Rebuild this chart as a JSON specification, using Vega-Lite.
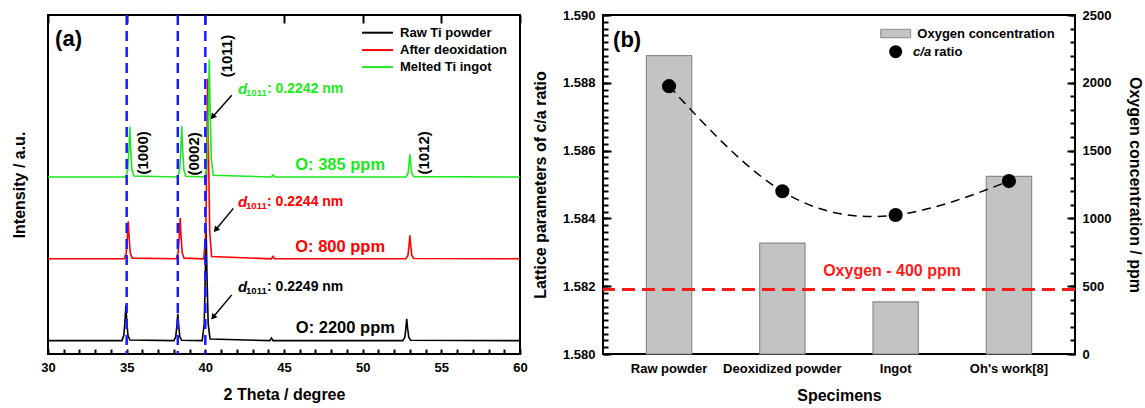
{
  "$schema": "https://vega.github.io/schema/vega-lite/v6.json",
  "background": "white",
  "padding": {"left": 10, "top": 8, "right": 0, "bottom": 2},
  "bounds": "flush",
  "spacing": 83,
  "config": {
    "view": {"stroke": "black", "strokeWidth": 2},
    "font": "Liberation Sans",
    "axis": {"labelFont": "Liberation Sans", "labelFontWeight": "bold", "labelFontSize": 13, "labelColor": "black", "titleFont": "Liberation Sans", "titleFontWeight": "bold", "titleFontSize": 16, "titleColor": "black", "domainColor": "black", "domainWidth": 2, "ticks": false, "grid": false, "gridColor": "black", "gridOpacity": 1, "gridWidth": 2, "labelOverlap": false, "labelFlush": false},
    "text": {"font": "Liberation Sans", "fontWeight": "bold"}
  },
  "datasets": {
    "xrd": [
      {"s": "Raw Ti powder", "t": 30, "i": 40}, {"s": "Raw Ti powder", "t": 34.7, "i": 40}, {"s": "Raw Ti powder", "t": 34.82, "i": 56}, {"s": "Raw Ti powder", "t": 34.9, "i": 103}, {"s": "Raw Ti powder", "t": 34.95, "i": 145}, {"s": "Raw Ti powder", "t": 35.0, "i": 103}, {"s": "Raw Ti powder", "t": 35.08, "i": 56}, {"s": "Raw Ti powder", "t": 35.2, "i": 42},
      {"s": "Raw Ti powder", "t": 38.0, "i": 40}, {"s": "Raw Ti powder", "t": 38.12, "i": 52}, {"s": "Raw Ti powder", "t": 38.2, "i": 88}, {"s": "Raw Ti powder", "t": 38.25, "i": 120}, {"s": "Raw Ti powder", "t": 38.3, "i": 88}, {"s": "Raw Ti powder", "t": 38.38, "i": 52}, {"s": "Raw Ti powder", "t": 38.5, "i": 41},
      {"s": "Raw Ti powder", "t": 39.8, "i": 40}, {"s": "Raw Ti powder", "t": 39.93, "i": 91}, {"s": "Raw Ti powder", "t": 40.0, "i": 244}, {"s": "Raw Ti powder", "t": 40.05, "i": 380}, {"s": "Raw Ti powder", "t": 40.1, "i": 244}, {"s": "Raw Ti powder", "t": 40.18, "i": 91}, {"s": "Raw Ti powder", "t": 40.3, "i": 45},
      {"s": "Raw Ti powder", "t": 44.1, "i": 40}, {"s": "Raw Ti powder", "t": 44.2, "i": 48}, {"s": "Raw Ti powder", "t": 44.3, "i": 40},
      {"s": "Raw Ti powder", "t": 52.55, "i": 40}, {"s": "Raw Ti powder", "t": 52.68, "i": 50}, {"s": "Raw Ti powder", "t": 52.75, "i": 79}, {"s": "Raw Ti powder", "t": 52.8, "i": 105}, {"s": "Raw Ti powder", "t": 52.85, "i": 79}, {"s": "Raw Ti powder", "t": 52.93, "i": 50}, {"s": "Raw Ti powder", "t": 53.05, "i": 41}, {"s": "Raw Ti powder", "t": 60, "i": 40},
      {"s": "After deoxidation", "t": 30, "i": 285}, {"s": "After deoxidation", "t": 34.85, "i": 285}, {"s": "After deoxidation", "t": 34.97, "i": 302}, {"s": "After deoxidation", "t": 35.05, "i": 352}, {"s": "After deoxidation", "t": 35.1, "i": 397}, {"s": "After deoxidation", "t": 35.15, "i": 352}, {"s": "After deoxidation", "t": 35.23, "i": 302}, {"s": "After deoxidation", "t": 35.35, "i": 287},
      {"s": "After deoxidation", "t": 38.15, "i": 285}, {"s": "After deoxidation", "t": 38.27, "i": 303}, {"s": "After deoxidation", "t": 38.35, "i": 358}, {"s": "After deoxidation", "t": 38.4, "i": 407}, {"s": "After deoxidation", "t": 38.45, "i": 358}, {"s": "After deoxidation", "t": 38.53, "i": 303}, {"s": "After deoxidation", "t": 38.65, "i": 287},
      {"s": "After deoxidation", "t": 39.9, "i": 285}, {"s": "After deoxidation", "t": 40.03, "i": 366}, {"s": "After deoxidation", "t": 40.1, "i": 609}, {"s": "After deoxidation", "t": 40.15, "i": 825}, {"s": "After deoxidation", "t": 40.2, "i": 609}, {"s": "After deoxidation", "t": 40.28, "i": 366}, {"s": "After deoxidation", "t": 40.4, "i": 292},
      {"s": "After deoxidation", "t": 44.2, "i": 285}, {"s": "After deoxidation", "t": 44.3, "i": 292}, {"s": "After deoxidation", "t": 44.4, "i": 285},
      {"s": "After deoxidation", "t": 52.75, "i": 285}, {"s": "After deoxidation", "t": 52.88, "i": 296}, {"s": "After deoxidation", "t": 52.95, "i": 327}, {"s": "After deoxidation", "t": 53.0, "i": 355}, {"s": "After deoxidation", "t": 53.05, "i": 327}, {"s": "After deoxidation", "t": 53.12, "i": 296}, {"s": "After deoxidation", "t": 53.25, "i": 286}, {"s": "After deoxidation", "t": 60, "i": 285},
      {"s": "Melted Ti ingot", "t": 30, "i": 530}, {"s": "Melted Ti ingot", "t": 34.95, "i": 530}, {"s": "Melted Ti ingot", "t": 35.07, "i": 552}, {"s": "Melted Ti ingot", "t": 35.15, "i": 620}, {"s": "Melted Ti ingot", "t": 35.2, "i": 680}, {"s": "Melted Ti ingot", "t": 35.25, "i": 620}, {"s": "Melted Ti ingot", "t": 35.33, "i": 553}, {"s": "Melted Ti ingot", "t": 35.45, "i": 533},
      {"s": "Melted Ti ingot", "t": 38.25, "i": 530}, {"s": "Melted Ti ingot", "t": 38.37, "i": 553}, {"s": "Melted Ti ingot", "t": 38.45, "i": 620}, {"s": "Melted Ti ingot", "t": 38.5, "i": 682}, {"s": "Melted Ti ingot", "t": 38.55, "i": 621}, {"s": "Melted Ti ingot", "t": 38.63, "i": 553}, {"s": "Melted Ti ingot", "t": 38.75, "i": 532},
      {"s": "Melted Ti ingot", "t": 40.0, "i": 530}, {"s": "Melted Ti ingot", "t": 40.13, "i": 583}, {"s": "Melted Ti ingot", "t": 40.2, "i": 741}, {"s": "Melted Ti ingot", "t": 40.25, "i": 882}, {"s": "Melted Ti ingot", "t": 40.3, "i": 741}, {"s": "Melted Ti ingot", "t": 40.38, "i": 583}, {"s": "Melted Ti ingot", "t": 40.5, "i": 535},
      {"s": "Melted Ti ingot", "t": 44.2, "i": 530}, {"s": "Melted Ti ingot", "t": 44.3, "i": 536}, {"s": "Melted Ti ingot", "t": 44.4, "i": 530},
      {"s": "Melted Ti ingot", "t": 52.75, "i": 530}, {"s": "Melted Ti ingot", "t": 52.88, "i": 540}, {"s": "Melted Ti ingot", "t": 52.95, "i": 570}, {"s": "Melted Ti ingot", "t": 53.0, "i": 598}, {"s": "Melted Ti ingot", "t": 53.05, "i": 570}, {"s": "Melted Ti ingot", "t": 53.12, "i": 541}, {"s": "Melted Ti ingot", "t": 53.25, "i": 531}, {"s": "Melted Ti ingot", "t": 60, "i": 530}
    ],
    "spec": [
      {"spec": "Raw powder", "oxy": 2200, "ca": 1.5879},
      {"spec": "Deoxidized powder", "oxy": 818, "ca": 1.5848},
      {"spec": "Ingot", "oxy": 385, "ca": 1.5841},
      {"spec": "Oh's work[8]", "oxy": 1310, "ca": 1.5851}
    ]
  },
  "hconcat": [
    {
      "width": 472,
      "height": 339,
      "layer": [
        {
          "layer": [
            {
              "data": {"name": "xrd"},
              "mark": {"type": "line", "strokeWidth": 1.6},
              "encoding": {
                "x": {"field": "t", "type": "quantitative", "scale": {"domain": [30, 60], "nice": false, "zero": false},
                  "axis": {"title": "2 Theta / degree", "values": [30, 35, 40, 45, 50, 55, 60], "ticks": false, "grid": true, "gridDash": [8, 2000], "gridColor": "black", "gridWidth": 2, "gridOpacity": 1, "domain": false, "labelPadding": 7, "titlePadding": 12}},
                "y": {"field": "i", "type": "quantitative", "scale": {"domain": [0, 1015], "nice": false},
                  "axis": {"title": "Intensity / a.u.", "labels": false, "ticks": false, "grid": false, "domain": false, "titlePadding": 21}},
                "color": {"field": "s", "type": "nominal", "scale": {"domain": ["Raw Ti powder", "After deoxidation", "Melted Ti ingot"], "range": ["#000000", "#ff0000", "#1ee81e"]}, "legend": null}
              }
            },
            {
              "data": {"values": [{"t": 35.0}, {"t": 38.25}, {"t": 40.0}]},
              "mark": {"type": "rule", "color": "#1a1aff", "strokeWidth": 2.5, "strokeDash": [10, 6]},
              "encoding": {"x": {"field": "t", "type": "quantitative"}}
            },
            {
              "data": {"values": [{"t": 36.04, "i": 602, "v": "(1000)"}, {"t": 39.3, "i": 599, "v": "(0002)"}, {"t": 41.36, "i": 892, "v": "(1011)"}, {"t": 53.9, "i": 602, "v": "(1012)"}]},
              "mark": {"type": "text", "angle": 270, "fontSize": 15, "color": "black", "align": "center", "baseline": "middle"},
              "encoding": {"x": {"field": "t", "type": "quantitative"}, "y": {"field": "i", "type": "quantitative"}, "text": {"field": "v"}}
            },
            {
              "data": {"values": [{"s": "Melted Ti ingot", "t": 42.08, "i": 793, "v": ": 0.2242 nm"}, {"s": "After deoxidation", "t": 42.08, "i": 456, "v": ": 0.2244 nm"}, {"s": "Raw Ti powder", "t": 42.08, "i": 200, "v": ": 0.2249 nm"}]},
              "layer": [
                {"mark": {"type": "text", "text": "d", "fontStyle": "italic", "fontSize": 15, "align": "left", "baseline": "middle"},
                 "encoding": {"x": {"field": "t", "type": "quantitative"}, "y": {"field": "i", "type": "quantitative"}, "color": {"field": "s", "type": "nominal", "legend": null}}},
                {"mark": {"type": "text", "text": "1011", "fontSize": 9.5, "align": "left", "baseline": "middle", "dx": 8, "dy": 4},
                 "encoding": {"x": {"field": "t", "type": "quantitative"}, "y": {"field": "i", "type": "quantitative"}, "color": {"field": "s", "type": "nominal", "legend": null}}},
                {"mark": {"type": "text", "fontSize": 14, "align": "left", "baseline": "middle", "dx": 29},
                 "encoding": {"x": {"field": "t", "type": "quantitative"}, "y": {"field": "i", "type": "quantitative"}, "text": {"field": "v"}, "color": {"field": "s", "type": "nominal", "legend": null}}}
              ]
            },
            {
              "data": {"values": [{"t": 41.68, "i": 775, "t2": 40.5, "i2": 712}, {"t": 41.78, "i": 436, "t2": 40.7, "i2": 374}, {"t": 41.68, "i": 177, "t2": 40.53, "i2": 112}]},
              "layer": [
                {"mark": {"type": "rule", "color": "black", "strokeWidth": 1.5},
                 "encoding": {"x": {"field": "t", "type": "quantitative"}, "y": {"field": "i", "type": "quantitative"}, "x2": {"field": "t2"}, "y2": {"field": "i2"}}},
                {"mark": {"type": "point", "shape": "triangle", "angle": 220, "filled": true, "color": "black", "size": 45, "opacity": 1},
                 "encoding": {"x": {"field": "t2", "type": "quantitative"}, "y": {"field": "i2", "type": "quantitative"}}}
              ]
            },
            {
              "data": {"values": [{"s": "Melted Ti ingot", "t": 48.57, "i": 566, "v": "O: 385 ppm"}, {"s": "After deoxidation", "t": 48.57, "i": 321, "v": "O: 800 ppm"}, {"s": "Raw Ti powder", "t": 48.9, "i": 77, "v": "O: 2200 ppm"}]},
              "mark": {"type": "text", "fontSize": 16.5, "align": "center", "baseline": "middle"},
              "encoding": {"x": {"field": "t", "type": "quantitative"}, "y": {"field": "i", "type": "quantitative"}, "text": {"field": "v"}, "color": {"field": "s", "type": "nominal", "legend": null}}
            },
            {
              "data": {"values": [{"t": 30.45, "i": 943, "v": "(a)"}]},
              "mark": {"type": "text", "fontSize": 22, "align": "left", "baseline": "middle", "color": "black"},
              "encoding": {"x": {"field": "t", "type": "quantitative"}, "y": {"field": "i", "type": "quantitative"}, "text": {"field": "v"}}
            },
            {
              "data": {"values": [{"s": "Raw Ti powder", "t": 49.96, "t2": 51.93, "i": 962}, {"s": "After deoxidation", "t": 49.96, "t2": 51.93, "i": 910}, {"s": "Melted Ti ingot", "t": 49.96, "t2": 51.93, "i": 859}]},
              "layer": [
                {"mark": {"type": "rule", "strokeWidth": 2},
                 "encoding": {"x": {"field": "t", "type": "quantitative"}, "x2": {"field": "t2"}, "y": {"field": "i", "type": "quantitative"}, "color": {"field": "s", "type": "nominal", "legend": null}}},
                {"mark": {"type": "text", "fontSize": 13, "align": "left", "baseline": "middle", "dx": 7, "color": "black"},
                 "encoding": {"x": {"field": "t2", "type": "quantitative"}, "y": {"field": "i", "type": "quantitative"}, "text": {"field": "s"}}}
              ]
            }
          ]
        },
        {
          "data": {"name": "xrd"},
          "mark": {"type": "point", "opacity": 0},
          "encoding": {
            "x": {"field": "t", "type": "quantitative", "scale": {"domain": [30, 60], "nice": false, "zero": false},
              "axis": {"title": null, "labels": false, "ticks": false, "values": [30,31,32,33,34,35,36,37,38,39,40,41,42,43,44,45,46,47,48,49,50,51,52,53,54,55,56,57,58,59,60], "grid": true, "gridDash": [5, 2000], "gridColor": "black", "gridWidth": 2, "gridOpacity": 1, "domain": false}},
            "y": {"field": "i", "type": "quantitative"}
          }
        }
      ],
      "resolve": {"scale": {"x": "independent"}}
    },
    {
      "width": 472,
      "height": 339,
      "data": {"name": "spec"},
      "layer": [
        {
          "mark": {"type": "bar", "fill": "#c3c3c3", "stroke": "#8c8c8c", "strokeWidth": 1.2},
          "encoding": {
            "x": {"field": "spec", "type": "nominal", "sort": null, "scale": {"paddingInner": 0.6, "paddingOuter": 0.383},
              "axis": {"title": "Specimens", "labelAngle": 0, "ticks": false, "grid": false, "domain": false, "labelPadding": 8, "titlePadding": 12}},
            "y": {"field": "oxy", "type": "quantitative", "scale": {"domain": [0, 2500], "nice": false},
              "axis": {"orient": "right", "title": "Oxygen concentration / ppm", "format": "d", "values": [0, 500, 1000, 1500, 2000, 2500], "ticks": false, "grid": true, "gridDash": [8, 2000], "gridColor": "black", "gridWidth": 2, "gridOpacity": 1, "domain": false, "labelPadding": 7, "titlePadding": 16}}
          }
        },
        {
          "mark": {"type": "point", "opacity": 0},
          "encoding": {
            "x": {"field": "spec", "type": "nominal", "sort": null},
            "y": {"field": "oxy", "type": "quantitative", "scale": {"domain": [0, 2500], "nice": false},
              "axis": {"orient": "right", "title": null, "labels": false, "ticks": false, "values": [0,100,200,300,400,500,600,700,800,900,1000,1100,1200,1300,1400,1500,1600,1700,1800,1900,2000,2100,2200,2300,2400,2500], "grid": true, "gridDash": [5, 2000], "gridColor": "black", "gridWidth": 2, "gridOpacity": 1, "domain": false}}
          }
        },
        {
          "layer": [
            {
              "mark": {"type": "line", "interpolate": "natural", "color": "black", "strokeDash": [9, 6], "strokeWidth": 1.5},
              "encoding": {
                "x": {"field": "spec", "type": "nominal", "sort": null},
                "y": {"field": "ca", "type": "quantitative", "scale": {"domain": [1.58, 1.59], "nice": false, "zero": false},
                  "axis": {"orient": "left", "title": "Lattice parameters of c/a ratio", "values": [1.58, 1.582, 1.584, 1.586, 1.588, 1.59], "format": ".3f", "ticks": false, "grid": true, "gridDash": [8, 2000], "gridColor": "black", "gridWidth": 2, "gridOpacity": 1, "domain": false, "labelPadding": 8, "titlePadding": 14}}
              }
            },
            {
              "mark": {"type": "point", "filled": true, "color": "black", "size": 200, "opacity": 1},
              "encoding": {"x": {"field": "spec", "type": "nominal", "sort": null}, "y": {"field": "ca", "type": "quantitative"}}
            },
            {
              "data": {"values": [{"ca": 1.5819}]},
              "mark": {"type": "rule", "color": "#ff1a1a", "strokeWidth": 3, "strokeDash": [13, 7]},
              "encoding": {"y": {"field": "ca", "type": "quantitative"}}
            },
            {
              "data": {"values": [{"spec": "Ingot", "ca": 1.58244, "v": "Oxygen - 400 ppm"}]},
              "mark": {"type": "text", "fontSize": 16, "color": "#ff1a1a", "align": "center", "baseline": "middle", "dx": -3.6},
              "encoding": {"x": {"field": "spec", "type": "nominal", "sort": null}, "y": {"field": "ca", "type": "quantitative"}, "text": {"field": "v"}}
            },
            {
              "data": {"values": [{"spec": "Raw powder", "ca": 1.58926, "v": "(b)"}]},
              "mark": {"type": "text", "fontSize": 22, "color": "black", "align": "left", "baseline": "middle", "dx": -56},
              "encoding": {"x": {"field": "spec", "type": "nominal", "sort": null}, "y": {"field": "ca", "type": "quantitative"}, "text": {"field": "v"}}
            },
            {
              "data": {"values": [{"spec": "Ingot", "ca": 1.589454}]},
              "mark": {"type": "point", "shape": "M-1,-0.28L1,-0.28L1,0.28L-1,0.28Z", "size": 900, "filled": true, "fill": "#c3c3c3", "stroke": "#8c8c8c", "strokeWidth": 1, "opacity": 1, "dx": -0.9},
              "encoding": {"x": {"field": "spec", "type": "nominal", "sort": null}, "y": {"field": "ca", "type": "quantitative"}}
            },
            {
              "data": {"values": [{"spec": "Ingot", "ca": 1.588917}]},
              "mark": {"type": "point", "filled": true, "color": "black", "size": 170, "opacity": 1, "dx": -2.6},
              "encoding": {"x": {"field": "spec", "type": "nominal", "sort": null}, "y": {"field": "ca", "type": "quantitative"}}
            },
            {
              "data": {"values": [{"spec": "Ingot", "ca": 1.589454, "v": "Oxygen concentration"}]},
              "mark": {"type": "text", "fontSize": 13, "color": "black", "align": "left", "baseline": "middle", "dx": 21.7},
              "encoding": {"x": {"field": "spec", "type": "nominal", "sort": null}, "y": {"field": "ca", "type": "quantitative"}, "text": {"field": "v"}}
            },
            {
              "data": {"values": [{"spec": "Ingot", "ca": 1.588917, "v": "c/a"}]},
              "mark": {"type": "text", "fontSize": 13, "fontStyle": "italic", "color": "black", "align": "left", "baseline": "middle", "dx": 17.4},
              "encoding": {"x": {"field": "spec", "type": "nominal", "sort": null}, "y": {"field": "ca", "type": "quantitative"}, "text": {"field": "v"}}
            },
            {
              "data": {"values": [{"spec": "Ingot", "ca": 1.588917, "v": "ratio"}]},
              "mark": {"type": "text", "fontSize": 13, "color": "black", "align": "left", "baseline": "middle", "dx": 38.5},
              "encoding": {"x": {"field": "spec", "type": "nominal", "sort": null}, "y": {"field": "ca", "type": "quantitative"}, "text": {"field": "v"}}
            }
          ]
        },
        {
          "mark": {"type": "point", "opacity": 0},
          "encoding": {
            "x": {"field": "spec", "type": "nominal", "sort": null},
            "y": {"field": "ca", "type": "quantitative", "scale": {"domain": [1.58, 1.59], "nice": false, "zero": false},
              "axis": {"orient": "left", "title": null, "labels": false, "ticks": false, "values": [1.58,1.5802,1.5804,1.5806,1.5808,1.581,1.5812,1.5814,1.5816,1.5818,1.582,1.5822,1.5824,1.5826,1.5828,1.583,1.5832,1.5834,1.5836,1.5838,1.584,1.5842,1.5844,1.5846,1.5848,1.585,1.5852,1.5854,1.5856,1.5858,1.586,1.5862,1.5864,1.5866,1.5868,1.587,1.5872,1.5874,1.5876,1.5878,1.588,1.5882,1.5884,1.5886,1.5888,1.589,1.5892,1.5894,1.5896,1.5898,1.59], "grid": true, "gridDash": [5, 2000], "gridColor": "black", "gridWidth": 2, "gridOpacity": 1, "domain": false}}
          }
        }
      ],
      "resolve": {"scale": {"y": "independent"}}
    }
  ]
}
